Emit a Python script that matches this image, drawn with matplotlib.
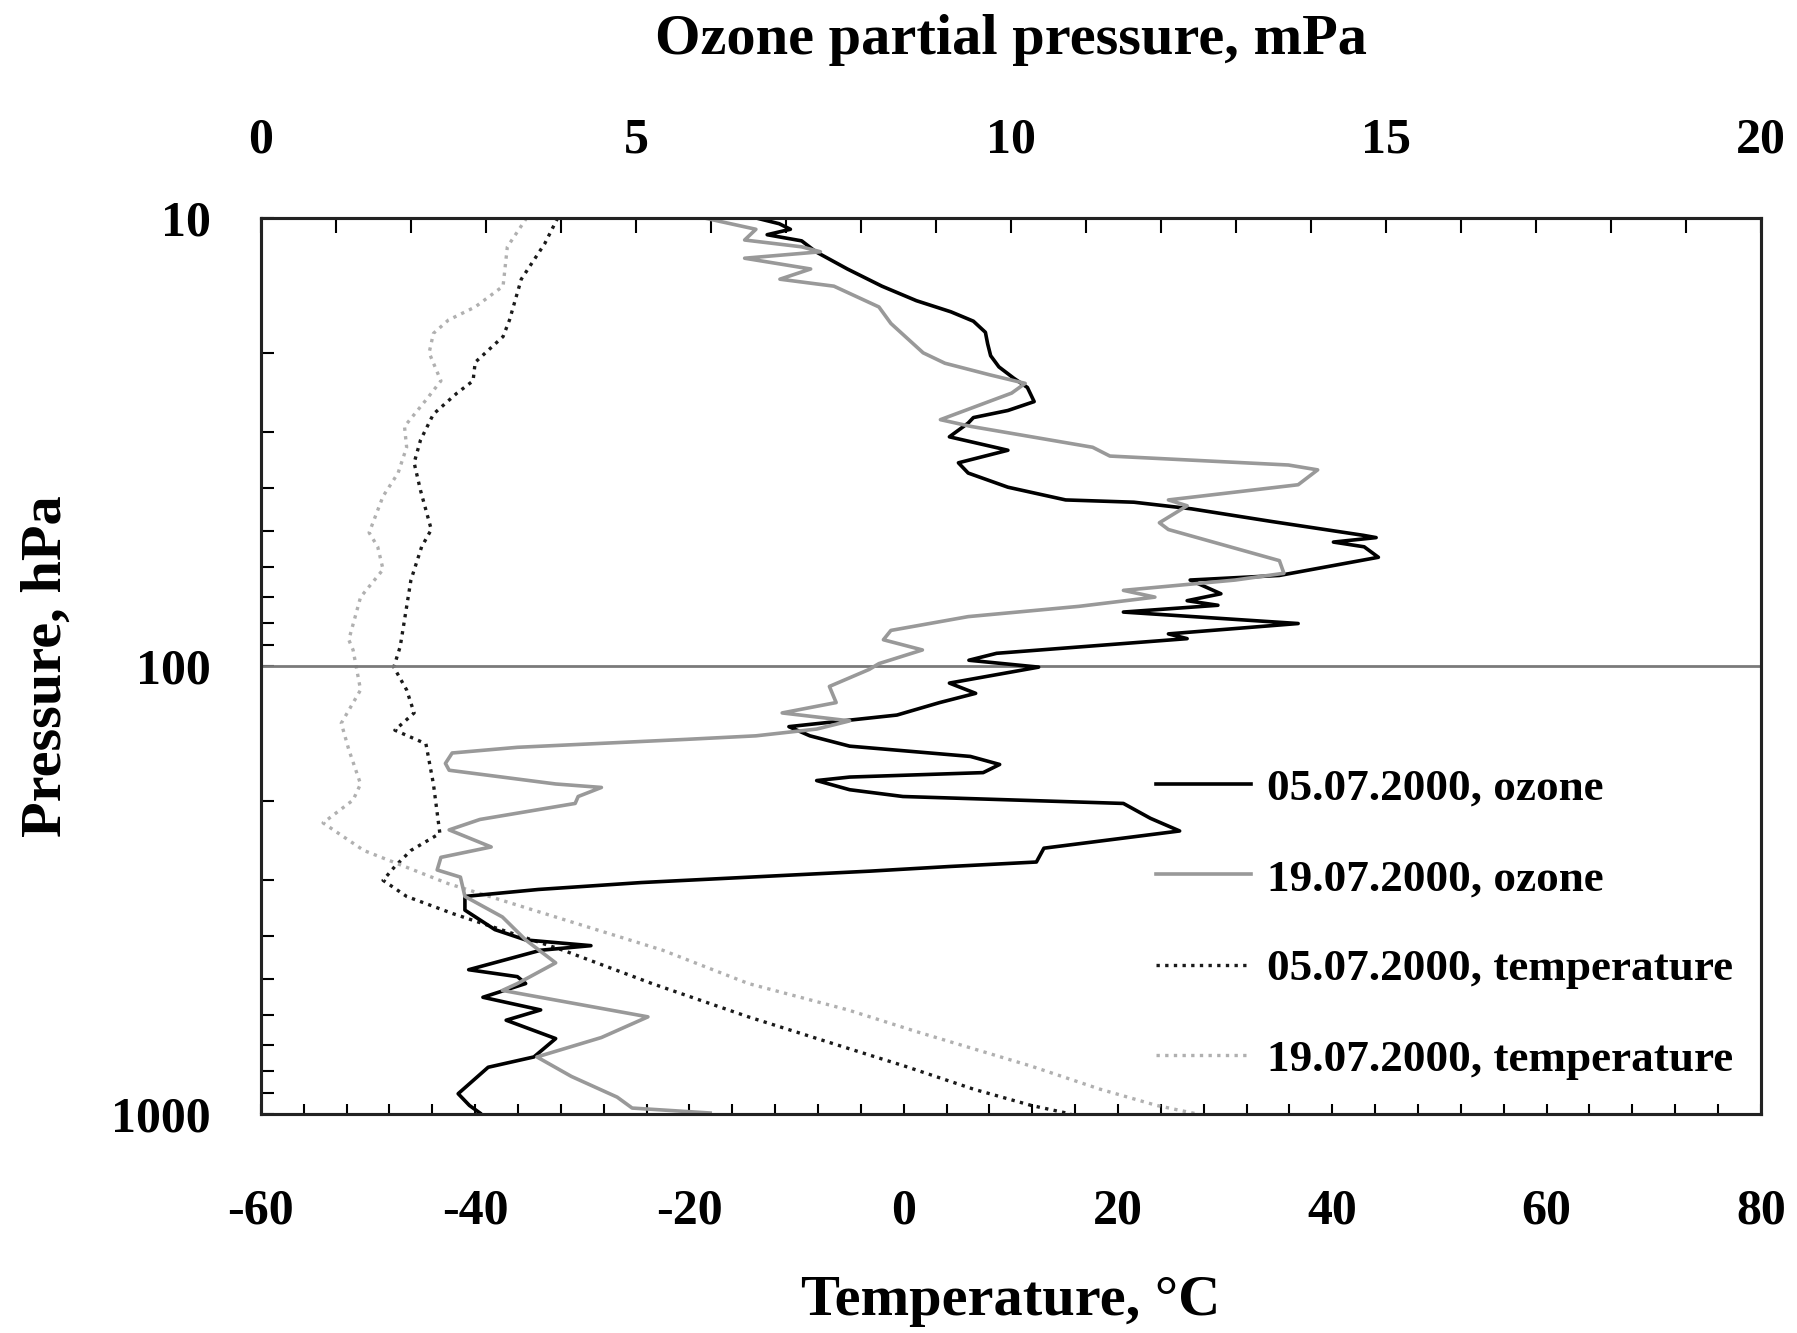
import matplotlib
matplotlib.use('Agg')
import matplotlib.pyplot as plt
from matplotlib.ticker import MultipleLocator, FixedLocator, NullFormatter, FixedFormatter

plt.rcParams['font.family'] = ['Liberation Serif', 'DejaVu Serif']
plt.rcParams['font.weight'] = 'bold'
plt.rcParams['axes.labelweight'] = 'bold'
plt.rcParams['axes.unicode_minus'] = False

# ozone partial pressure, mPa (05.07.2000)
oz1_p = [10.0, 10.3, 10.6, 10.9, 11.25, 11.9, 13.0, 14.2, 15.3, 16.2, 17.0, 18.0, 19.1, 20.3, 21.5,
         22.8, 23.9, 25.7, 26.9, 27.9, 28.7, 30.8, 33.0, 35.2, 37.1, 39.9, 42.6, 43.1, 44.6, 47.6,
         51.1, 51.7, 52.9, 54.2, 57.2, 62.8, 64.3, 69.0, 71.5, 73.2, 75.8, 80.4, 84.8, 86.9, 93.7,
         97.1, 100.6, 109.2, 115.1, 120.7, 128.7, 136.6, 143.2, 151.0, 159.2, 165.9, 173, 177, 180.2,
         188.9, 195.6, 202.7, 218.8, 233.5, 255.1, 273.9, 280.3, 287, 293.8, 304.4, 315.4, 326.9,
         350.7, 387.7, 408.8, 421, 431, 476.4, 493.7, 511.5, 548.9, 585.8, 617.6, 678.7, 745.9,
         786.5, 901, 957, 995]
oz1_v = [6.60, 6.91, 7.06, 6.75, 7.21, 7.40, 7.82, 8.28, 8.74, 9.20, 9.50, 9.66, 9.69, 9.73, 9.84,
         10.04, 10.22, 10.31, 9.96, 9.50, 9.43, 9.18, 9.96, 9.30, 9.43, 9.96, 10.73, 11.64, 12.41, 13.48,
         14.70, 14.87, 14.30, 14.71, 14.90, 13.58, 12.39, 12.80, 12.35, 12.76, 11.50, 13.83, 12.10, 12.35, 9.81,
         9.44, 10.37, 9.18, 9.53, 9.05, 8.48, 7.04, 7.32, 7.85, 9.46, 9.85, 9.63, 7.85, 7.41,
         7.85, 8.56, 11.50, 11.86, 12.25, 10.44, 10.34, 9.18, 8.13, 6.91, 5.07, 3.70, 2.72,
         2.72, 3.12, 3.53, 4.40, 3.73, 2.77, 3.42, 3.53, 2.96, 3.73, 3.27, 3.93, 3.64,
         3.03, 2.63, 2.78, 2.92]

# ozone partial pressure, mPa (19.07.2000)
oz2_p = [10.0, 10.6, 11.2, 11.6, 11.9, 12.3, 13.0, 13.7, 14.2, 15.8, 17.2, 20.0, 21.1, 22.4, 23.4,
         24.6, 28.2, 29.2, 32.5, 34.0, 35.6, 36.5, 39.4, 42.6, 43.9, 47.9, 49.6, 58.2, 62.1, 64.3,
         67.8, 70.2, 73.6, 77.6, 83.3, 87.4, 92.1, 98.8, 101.8, 111.1, 120.7, 127.3, 132.6, 138.3,
         143.2, 145.8, 151.9, 156.4, 165.0, 170.9, 183.4, 186.7, 195.6, 202.7, 220.1, 232.2, 253.5,
         267.4, 285.3, 296.0, 326.9, 363.3, 408.8, 459.9, 511.5, 529.9, 607, 675, 745.9, 824.5,
         917, 970, 995]
oz2_v = [5.91, 6.60, 6.45, 7.21, 7.46, 6.45, 7.33, 6.92, 7.64, 8.24, 8.40, 8.83, 9.12, 9.72, 10.19,
         10.01, 9.06, 9.47, 11.09, 11.32, 13.70, 14.09, 13.83, 12.10, 12.35, 11.98, 12.10, 13.58, 13.64, 12.99,
         11.50, 11.92, 10.91, 9.43, 8.40, 8.30, 8.82, 8.24, 8.11, 7.58, 7.67, 6.95, 7.85, 7.41,
         6.60, 5.68, 3.42, 2.55, 2.46, 2.51, 3.93, 4.54, 4.23, 4.19, 2.92, 2.51, 3.07,
         2.40, 2.35, 2.66, 2.72, 3.22, 3.53, 3.93, 3.42, 3.22, 5.16, 4.54, 3.68, 4.14,
         4.75, 4.95, 5.99]

# temperature, deg C
t1_p = [10, 11.4, 13.7, 16.9, 18.4, 21.0, 23.1, 24.6, 27.4, 31.3, 35.2, 40.6, 49.6, 54.2, 64.3,
        76.3, 90.5, 100.6, 113.1, 127.3, 139.1, 149.2, 183.4, 236.4, 258.1, 280.3, 300.9, 326.9,
        357, 431, 511.5, 607, 707.5, 782, 880, 957, 1000]
t1_v = [-32.3, -33.5, -35.7, -36.8, -37.4, -40.0, -40.2, -41.7, -43.9, -45.1, -45.7, -45.1, -44.1, -45.0, -46.0,
        -46.5, -47.0, -47.6, -46.4, -45.7, -47.5, -44.6, -43.9, -43.3, -46.0, -47.5, -48.6, -46.4,
        -42.1, -31.8, -23.5, -14.5, -5.7, 0.1, 6.5, 11.9, 15.6]
t2_p = [10, 11.6, 14.2, 15.8, 16.9, 18.1, 20.0, 23.1, 25.5, 29.2, 32.5, 37.1, 41.8, 50.4, 54.2,
        60.9, 70.2, 77.6, 87.4, 92.1, 113.1, 134.2, 153.7, 183.4, 199.2, 224.0, 258.1, 306.2,
        363.3, 431, 511.5, 585.8, 655, 782, 880, 957, 1000]
t2_v = [-35.2, -37.0, -37.4, -40.0, -42.5, -43.9, -44.3, -43.2, -44.6, -46.6, -46.4, -47.2, -48.6, -49.9, -49.1,
        -48.6, -50.7, -51.2, -51.8, -51.4, -50.7, -52.5, -51.8, -50.7, -51.4, -54.2, -50.4, -42.5,
        -32.5, -22.5, -14.5, -5.2, 1.2, 11.9, 18.3, 23.6, 27.4]

labels = ['05.07.2000, ozone', '19.07.2000, ozone',
          '05.07.2000, temperature', '19.07.2000, temperature']
p_ticks = [10, 100, 1000]
tropopause = 100

fig = plt.figure(figsize=(17.97, 13.33), dpi=100)
ax = fig.add_axes([0.1452, 0.1643, 0.8347, 0.6722])
ax2 = ax.twiny()

lt1, = ax.plot(t1_v, t1_p, color='#1a1a1a', lw=2.4, ls=(0, (1, 1.6)), label=labels[2])
lt2, = ax.plot(t2_v, t2_p, color='#b0b0b0', lw=2.4, ls=(0, (1, 1.6)), label=labels[3])
ax.axhline(tropopause, color='#7a7a7a', lw=2.0)

lo1, = ax2.plot(oz1_v, oz1_p, color='black', lw=2.6, label=labels[0])
lo2, = ax2.plot(oz2_v, oz2_p, color='#999999', lw=2.6, label=labels[1])

ax.set_yscale('log')
ax.set_ylim(1000, 10)
ax.set_xlim(-60, 80)
ax2.set_xlim(0, 20)

ax.yaxis.set_major_locator(FixedLocator(p_ticks))
ax.yaxis.set_major_formatter(FixedFormatter([str(v) for v in p_ticks]))
minors = [m * d for d in (10, 100) for m in range(2, 10)]
ax.yaxis.set_minor_locator(FixedLocator(minors))
ax.yaxis.set_minor_formatter(NullFormatter())

ax.xaxis.set_major_locator(MultipleLocator(20))
ax.xaxis.set_minor_locator(MultipleLocator(4))
ax2.xaxis.set_major_locator(MultipleLocator(5))
ax2.xaxis.set_minor_locator(MultipleLocator(1))

ax.tick_params(axis='x', which='both', direction='in', length=7, width=1.5,
               labelsize=36, pad=54, top=False)
ax.tick_params(axis='y', which='both', direction='in', length=9, width=1.5,
               labelsize=36, pad=36, right=False)
ax2.tick_params(axis='x', which='both', direction='in', length=11, width=1.5,
                labelsize=36, pad=39)

for a in (ax, ax2):
    for s in a.spines.values():
        s.set_linewidth(2.2)
        s.set_color('#222222')

ax.set_xlabel('Temperature, °C', fontsize=42, fontweight='bold')
ax.xaxis.set_label_coords(0.5, -0.209)
ax.xaxis.label.set_va('center')
ax2.set_xlabel('Ozone partial pressure, mPa', fontsize=42, fontweight='bold')
ax2.xaxis.set_label_coords(0.5, 1.199)
ax2.xaxis.label.set_va('center')
ax.set_ylabel('Pressure, hPa', fontsize=42, fontweight='bold')
ax.yaxis.set_label_coords(-0.143, 0.5)
ax.yaxis.label.set_va('center')

ax2.legend(handles=[lo1, lo2, lt1, lt2], loc='upper left', bbox_to_anchor=(0.585, 0.406),
           frameon=False, fontsize=32.5, handlelength=2.1, handletextpad=0.35,
           labelspacing=1.1, borderaxespad=0)

fig.savefig('out.png', dpi=100)
